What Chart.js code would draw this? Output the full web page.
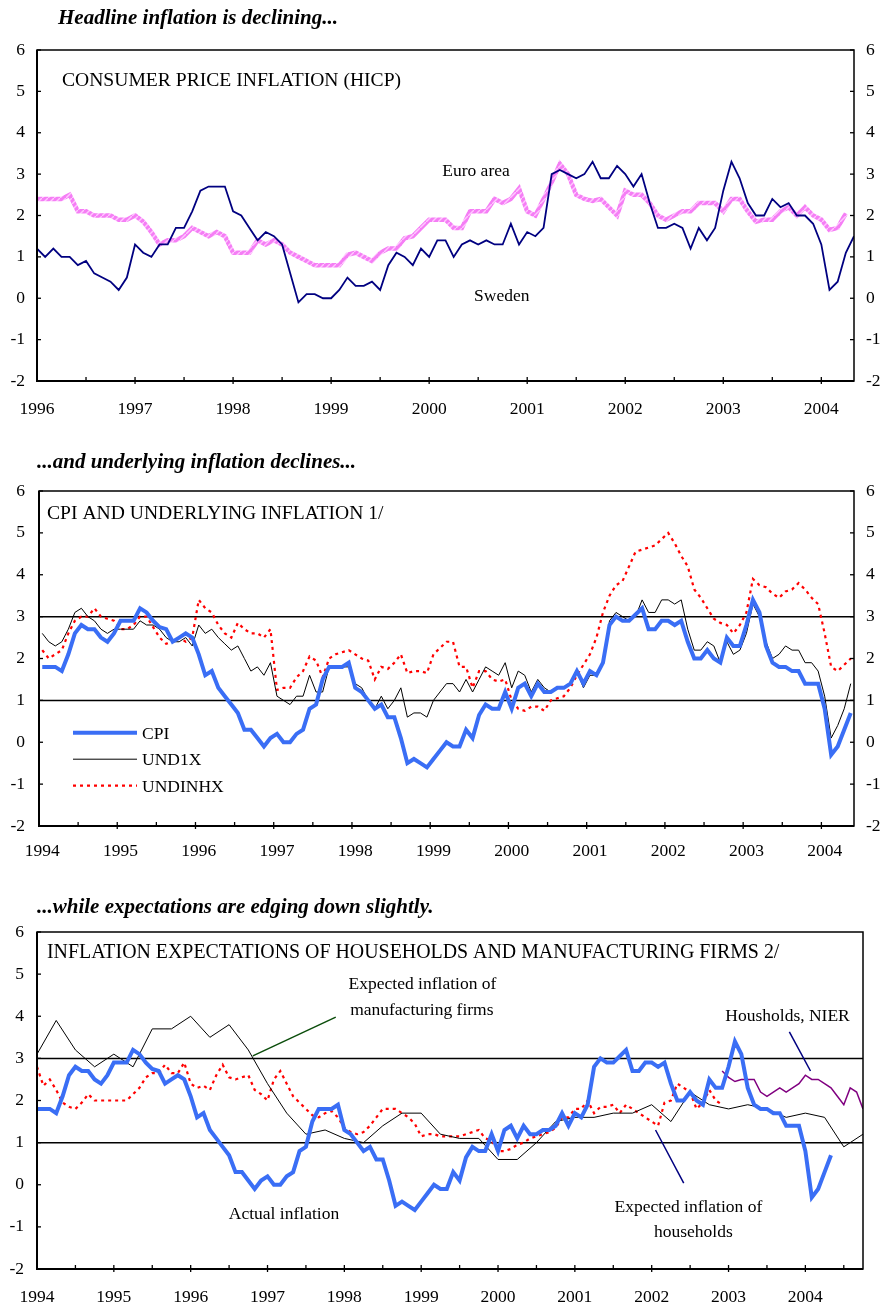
<!DOCTYPE html>
<html>
<head>
<meta charset="utf-8">
<script src="https://cdn.jsdelivr.net/npm/chart.js@4.4.1/dist/chart.umd.min.js"></script>
<style>
  body { margin: 0; background: #fff; width: 884px; height: 1306px; position: relative; overflow: hidden; }
  canvas { position: absolute; left: 0; }
</style>
</head>
<body>
<canvas id="c1" width="884" height="425" style="top:0px"></canvas>
<canvas id="c2" width="884" height="445" style="top:425px"></canvas>
<canvas id="c3" width="884" height="436" style="top:870px"></canvas>
<script>
// ---- data (monthly, 12-month % change) ----
const yearsP1 = ['1996', '1997', '1998', '1999', '2000', '2001', '2002', '2003', '2004'];
const yearsP23 = ['1994', '1995', '1996', '1997', '1998', '1999', '2000', '2001', '2002', '2003', '2004'];

// Panel 1: HICP, Jan 1996 -
const hicpSweden = [
  1.2, 1.0, 1.2, 1.0, 1.0, 0.8, 0.9, 0.6, 0.5, 0.4, 0.2, 0.5,
  1.3, 1.1, 1.0, 1.3, 1.3, 1.7, 1.7, 2.1, 2.6, 2.7, 2.7, 2.7,
  2.1, 2.0, 1.7, 1.4, 1.6, 1.5, 1.3, 0.6, -0.1, 0.1, 0.1, 0.0,
  0.0, 0.2, 0.5, 0.3, 0.3, 0.4, 0.2, 0.8, 1.1, 1.0, 0.8, 1.2,
  1.0, 1.4, 1.4, 1.0, 1.3, 1.4, 1.3, 1.4, 1.3, 1.3, 1.8, 1.3,
  1.6, 1.5, 1.7, 3.0, 3.1, 3.0, 2.9, 3.0, 3.3, 2.9, 2.9, 3.2,
  3.0, 2.7, 3.0, 2.3, 1.7, 1.7, 1.8, 1.7, 1.2, 1.7, 1.4, 1.7,
  2.6, 3.3, 2.9, 2.3, 2.0, 2.0, 2.4, 2.2, 2.3, 2.0, 2.0, 1.8,
  1.3, 0.2, 0.4, 1.1, 1.5
];
const hicpEuro = [
  2.4, 2.4, 2.4, 2.4, 2.5, 2.1, 2.1, 2.0, 2.0, 2.0, 1.9, 1.9,
  2.0, 1.85, 1.6, 1.3, 1.4, 1.4, 1.5, 1.7, 1.6, 1.5, 1.6, 1.5,
  1.1, 1.1, 1.1, 1.4, 1.3, 1.4, 1.3, 1.1, 1.0, 0.9, 0.8, 0.8,
  0.8, 0.8, 1.05, 1.1, 1.0, 0.9, 1.1, 1.2, 1.2, 1.45, 1.5, 1.7,
  1.9, 1.9, 1.9, 1.7, 1.7, 2.1, 2.1, 2.1, 2.4, 2.3, 2.4, 2.65,
  2.1, 2.0, 2.4, 2.8, 3.25, 3.0, 2.5, 2.4, 2.35, 2.4, 2.2, 2.0,
  2.6, 2.5, 2.5, 2.3, 2.0, 1.9, 2.0, 2.1, 2.1, 2.3, 2.3, 2.3,
  2.1, 2.4, 2.4, 2.1, 1.85, 1.9, 1.9, 2.1, 2.2, 2.0, 2.2, 2.0,
  1.9, 1.65, 1.7, 2.05
];

// Panel 2 and 3: Sweden, Jan 1994 -
const cpi = [
  1.8, 1.8, 1.8, 1.7, 2.1, 2.6, 2.8, 2.7, 2.7, 2.5, 2.4, 2.6,
  2.9, 2.9, 2.9, 3.2, 3.1, 2.9, 2.75, 2.7, 2.4, 2.5, 2.6, 2.5,
  2.1, 1.6, 1.7, 1.3, 1.1, 0.9, 0.7, 0.3, 0.3, 0.1, -0.1, 0.1,
  0.2, 0.0, 0.0, 0.2, 0.3, 0.8, 0.9, 1.5, 1.8, 1.8, 1.8, 1.9,
  1.3, 1.2, 1.0, 0.8, 0.9, 0.6, 0.6, 0.1, -0.5, -0.4, -0.5, -0.6,
  -0.4, -0.2, 0.0, -0.1, -0.1, 0.3, 0.1, 0.65, 0.9, 0.8, 0.8, 1.2,
  0.8, 1.3, 1.4, 1.1, 1.4, 1.2, 1.2, 1.3, 1.3, 1.4, 1.7, 1.4,
  1.7, 1.6, 1.9, 2.8, 3.0, 2.9, 2.9, 3.05, 3.2, 2.7, 2.7, 2.9,
  2.9, 2.8, 2.9, 2.4, 2.0, 2.0, 2.2, 2.0, 1.9, 2.5, 2.3, 2.3,
  2.8, 3.4, 3.1, 2.3, 1.9, 1.8, 1.8, 1.7, 1.7, 1.4, 1.4, 1.4,
  0.8, -0.3, -0.1, 0.3, 0.7
];
const und1x = [
  2.6, 2.4, 2.3, 2.4, 2.7, 3.1, 3.2, 3.0, 2.9, 2.7, 2.6, 2.7,
  2.7, 2.7, 2.7, 2.9, 2.8, 2.8, 2.7, 2.5, 2.4, 2.4, 2.5, 2.3,
  2.8, 2.6, 2.7, 2.5, 2.35, 2.2, 2.3, 2.0, 1.7, 1.8, 1.6, 1.9,
  1.1, 1.0, 0.9, 1.1, 1.1, 1.6, 1.2, 1.2, 1.8, 1.8, 1.8, 1.8,
  1.4, 1.3, 1.0, 0.8, 1.1, 0.8, 1.0, 1.3, 0.6, 0.7, 0.7, 0.6,
  1.0, 1.2, 1.4, 1.4, 1.2, 1.5, 1.2, 1.5, 1.8, 1.7, 1.6, 1.9,
  1.3, 1.7, 1.6, 1.2, 1.5, 1.3, 1.2, 1.3, 1.3, 1.4, 1.7, 1.3,
  1.6, 1.6, 1.9, 2.9, 3.1, 3.0, 2.9, 3.0, 3.4, 3.1, 3.1, 3.4,
  3.4, 3.3, 3.4, 2.7, 2.2, 2.2, 2.4, 2.3, 1.9, 2.4, 2.1, 2.2,
  2.6, 3.3, 3.0, 2.4, 2.0, 2.1, 2.3, 2.2, 2.2, 1.9, 1.9, 1.7,
  1.1, 0.1, 0.4, 0.8, 1.4
];
const undinhx = [
  2.2, 2.0, 2.1, 2.2, 2.6, 2.9, 3.0, 3.0, 3.2, 3.0, 2.95, 2.9,
  2.7, 2.7, 2.8, 3.0, 3.0, 2.75, 2.5, 2.35, 2.4, 2.5, 2.4, 2.5,
  3.4, 3.2, 3.1, 2.8, 2.6, 2.5, 2.85, 2.7, 2.6, 2.6, 2.5, 2.7,
  1.25, 1.3, 1.3, 1.55, 1.7, 2.05, 1.95, 1.55, 2.0, 2.1, 2.15, 2.2,
  2.1, 2.0, 1.95, 1.5, 1.8, 1.75, 1.9, 2.1, 1.65, 1.7, 1.7, 1.65,
  2.1, 2.25, 2.4, 2.4, 1.8, 1.8, 1.3, 1.7, 1.7, 1.5, 1.45, 1.5,
  1.0, 0.8, 0.75, 0.85, 0.85, 0.75, 1.0, 1.05, 1.1, 1.3, 1.6, 1.85,
  2.1, 2.5, 3.1, 3.5, 3.75, 3.85, 4.2, 4.55, 4.6, 4.65, 4.7, 4.85,
  5.0, 4.75, 4.45, 4.2, 3.65, 3.45, 3.2, 2.95, 2.85, 2.8, 2.6, 2.8,
  3.1, 3.9, 3.75, 3.7, 3.55, 3.45, 3.6, 3.65, 3.8, 3.65, 3.45, 3.3,
  2.6, 1.8, 1.7, 1.85, 2.0
];

// Panel 3: expectations
const firmsQuarterly = [ // Jan, Apr, Jul, Oct from 1994
  3.1, 3.9, 3.2, 2.8, 3.1, 2.8, 3.7, 3.7, 4.0, 3.5, 3.8, 3.2,
  2.4, 1.7, 1.2, 1.3, 1.1, 1.0, 1.4, 1.7, 1.7, 1.2, 1.1, 1.1,
  0.6, 0.6, 1.0, 1.5, 1.6, 1.6, 1.7, 1.7, 1.9, 1.5, 2.2, 1.9,
  1.8, 1.9, 1.8, 1.6, 1.7, 1.6, 0.9, 1.2
];
const households = [ // Jan 1994 - Dec 2002
  2.8, 2.35, 2.5, 2.25, 1.95, 1.85, 1.8, 1.95, 2.15, 2.0, 2.0, 2.0,
  2.0, 2.0, 2.0, 2.15, 2.3, 2.55, 2.65, 2.65, 2.85, 2.65, 2.65, 2.9,
  2.4, 2.3, 2.35, 2.25, 2.6, 2.85, 2.55, 2.5, 2.55, 2.6, 2.25, 2.15,
  2.0, 2.5, 2.7, 2.4, 2.1, 1.95, 1.8, 1.65, 1.6, 1.7, 1.75, 1.6,
  1.35, 1.25, 1.2, 1.25, 1.4, 1.6, 1.8, 1.8, 1.8, 1.7, 1.6, 1.45,
  1.15, 1.2, 1.2, 1.15, 1.15, 1.15, 1.15, 1.2, 1.25, 1.3, 1.1, 1.05,
  0.8, 0.8, 0.85, 0.95, 1.0, 1.1, 1.15, 1.2, 1.25, 1.35, 1.6, 1.6,
  1.8, 1.8, 2.0, 1.7, 1.85, 1.85, 1.9, 1.7, 1.9, 1.8, 1.7, 1.6,
  1.5, 1.4, 1.95, 2.0, 2.4, 2.3, 2.2, 1.8, 1.95, 2.25, 2.0, 1.9
];
const householdsNIER = [ // Dec 2002 - Oct 2004
  2.7, 2.55, 2.45, 2.5, 2.5, 2.5, 2.2, 2.1, 2.2, 2.3, 2.2, 2.3,
  2.4, 2.6, 2.5, 2.5, 2.4, 2.3, 2.1, 1.9, 2.3, 2.2, 1.8
];
const nierStart = 107; // months after Jan 1994

// ---- helpers ----
const SERIF = "'Liberation Serif', 'Times New Roman', serif";
Chart.defaults.font.family = SERIF;
Chart.defaults.font.size = 17.5;
Chart.defaults.color = '#000';

function points(values, start, step, shift) {
  return values.map((v, k) => ({ x: start + k * step + shift, y: v }));
}

function hatch() {
  const c = document.createElement('canvas');
  c.width = 6; c.height = 6;
  const g = c.getContext('2d');
  g.fillStyle = '#f57ef5';
  g.fillRect(0, 0, 6, 6);
  g.strokeStyle = '#ffc8ff';
  g.lineWidth = 1.4;
  g.beginPath(); g.moveTo(0, 6); g.lineTo(6, 0); g.stroke();
  return g.createPattern(c, 'repeat');
}

function makePanel(id, p) {
  const canvas = document.getElementById(id);
  const H = canvas.height;
  const a = p.area;

  const yBase = {
    min: -2, max: 6,
    grid: { display: false, drawTicks: false },
    border: { display: false },
    ticks: { stepSize: 1, color: '#000', font: { size: 17.5 }, callback: v => String(v) }
  };

  const scales = {
    x: {
      type: 'linear', min: 0, max: p.xMax,
      grid: { display: false, drawTicks: false },
      border: { display: false },
      afterBuildTicks: s => {
        s.ticks = [];
        for (let v = 0; v <= p.xMax; v += 6) s.ticks.push({ value: v });
      },
      afterFit: s => { s.height = p.top + H - a.b; },
      ticks: {
        autoSkip: false, maxRotation: 0, minRotation: 0,
        padding: p.xPad, labelOffset: p.labelOffset || 0,
        color: '#000', font: { size: 17.5 },
        callback: v => (v % 12 === 0 ? (p.years[v / 12] || '') : '')
      }
    },
    y: Object.assign({}, yBase, {
      position: 'left',
      afterFit: s => { s.width = a.l; },
      ticks: Object.assign({}, yBase.ticks, { padding: p.yPad })
    })
  };
  if (p.rightAxis) {
    scales.y2 = Object.assign({}, yBase, {
      position: 'right',
      afterFit: s => { s.width = 884 - a.r; },
      ticks: Object.assign({}, yBase.ticks, { padding: p.y2Pad })
    });
  }

  const decor = {
    id: 'decor_' + id,
    beforeDatasetsDraw(chart) {
      const { ctx, chartArea: ca, scales: { y } } = chart;
      ctx.save();
      ctx.strokeStyle = '#000';
      ctx.lineWidth = 1.5;
      (p.refLines || []).forEach(v => {
        const py = y.getPixelForValue(v);
        ctx.beginPath(); ctx.moveTo(ca.left, py); ctx.lineTo(ca.right, py); ctx.stroke();
      });
      ctx.restore();
    },
    afterDatasetsDraw(chart) {
      const { ctx, chartArea: ca, scales: { x, y } } = chart;
      ctx.save();
      ctx.strokeStyle = '#000';
      // frame
      ctx.lineWidth = 1.5;
      ctx.strokeRect(ca.left, ca.top, ca.right - ca.left, ca.bottom - ca.top);
      ctx.lineWidth = 2;
      ctx.beginPath();
      ctx.moveTo(ca.left, ca.top); ctx.lineTo(ca.left, ca.bottom); ctx.lineTo(ca.right, ca.bottom);
      ctx.stroke();
      // tick marks
      ctx.lineWidth = 1.3;
      for (let v = -2; v <= 6; v++) {
        const py = y.getPixelForValue(v);
        ctx.beginPath(); ctx.moveTo(ca.left, py); ctx.lineTo(ca.left + 4, py); ctx.stroke();
        if (p.rightAxis) {
          ctx.beginPath(); ctx.moveTo(ca.right, py); ctx.lineTo(ca.right - 4, py); ctx.stroke();
        }
      }
      for (let v = 6; v < p.xMax; v += 6) {
        const px = x.getPixelForValue(v);
        ctx.beginPath();
        ctx.moveTo(px, ca.bottom - 4);
        ctx.lineTo(px, ca.bottom + (v % 12 === 0 ? 3 : 0));
        ctx.stroke();
      }
      // leader lines
      (p.leaders || []).forEach(l => {
        ctx.strokeStyle = l.color;
        ctx.lineWidth = 1.5;
        ctx.beginPath();
        ctx.moveTo(x.getPixelForValue(l.x1), y.getPixelForValue(l.y1));
        ctx.lineTo(x.getPixelForValue(l.x2), y.getPixelForValue(l.y2));
        ctx.stroke();
      });
      // in-plot title
      ctx.fillStyle = '#000';
      ctx.textBaseline = 'alphabetic';
      ctx.textAlign = 'left';
      ctx.font = p.titleSize + 'px ' + SERIF;
      ctx.fillText(p.title, ca.left + p.titleDx, ca.top + p.titleDy);
      // notes
      ctx.font = '17.5px ' + SERIF;
      (p.notes || []).forEach(n => {
        ctx.textAlign = n.align || 'left';
        ctx.fillText(n.text, x.getPixelForValue(n.x), y.getPixelForValue(n.y));
      });
      // legend
      if (p.legend) {
        const lg = p.legend;
        chart.data.datasets.forEach((ds, i) => {
          const ly = ca.top + lg.dy + i * lg.gap;
          ctx.strokeStyle = ds.borderColor;
          ctx.lineWidth = ds.borderWidth;
          ctx.setLineDash(ds.borderDash || []);
          ctx.beginPath();
          ctx.moveTo(ca.left + lg.x1, ly); ctx.lineTo(ca.left + lg.x2, ly);
          ctx.stroke();
          ctx.setLineDash([]);
          ctx.textAlign = 'left';
          ctx.fillText(ds.label, ca.left + lg.tx, ly + 6);
        });
      }
      // heading above the panel
      ctx.font = 'italic bold 21px ' + SERIF;
      ctx.textAlign = 'left';
      ctx.fillText(p.heading, p.headingX, p.headingY - p.top);
      ctx.restore();
    }
  };

  return new Chart(canvas.getContext('2d'), {
    type: 'line',
    data: { datasets: p.datasets },
    options: {
      responsive: false,
      animation: false,
      devicePixelRatio: 1,
      layout: { padding: { top: a.t - p.top, right: p.rightAxis ? 0 : 884 - a.r, left: 0, bottom: 0 } },
      elements: { point: { radius: 0 }, line: { tension: 0 } },
      plugins: { legend: { display: false }, tooltip: { enabled: false } },
      scales: scales
    },
    plugins: [decor]
  });
}

const BLUE = '#3a6ef5';

// Panel 1
makePanel('c1', {
  top: 0,
  area: { l: 37, t: 50, r: 854, b: 381 },
  xMax: 100, years: yearsP1, xPad: 18, yPad: 12, y2Pad: 12, rightAxis: true,
  heading: 'Headline inflation is declining...', headingX: 58, headingY: 24,
  title: 'CONSUMER PRICE INFLATION (HICP)', titleSize: 19.6, titleDx: 25, titleDy: 36,
  notes: [
    { text: 'Euro area', x: 49.6, y: 2.96 },
    { text: 'Sweden', x: 53.5, y: -0.07 }
  ],
  datasets: [
    { label: 'Sweden', data: points(hicpSweden, 0, 1, 0), borderColor: '#000080', borderWidth: 1.8 },
    { label: 'Euro area', data: points(hicpEuro, 0, 1, 0), borderColor: hatch(), borderWidth: 4.5 }
  ]
});

// Panel 2
makePanel('c2', {
  top: 425,
  area: { l: 39, t: 491, r: 854, b: 826 },
  xMax: 125, years: yearsP23, xPad: 15, labelOffset: 3.25, yPad: 14, y2Pad: 12, rightAxis: true,
  refLines: [1, 3],
  heading: '...and underlying inflation declines...', headingX: 37, headingY: 468,
  title: 'CPI AND UNDERLYING INFLATION 1/', titleSize: 19.6, titleDx: 8, titleDy: 28,
  legend: { x1: 34, x2: 98, tx: 103, dy: 241.7, gap: 26.5 },
  datasets: [
    { label: 'CPI', data: points(cpi, 0, 1, 0.5), borderColor: BLUE, borderWidth: 4 },
    { label: 'UND1X', data: points(und1x, 0, 1, 0.5), borderColor: '#000', borderWidth: 1 },
    { label: 'UNDINHX', data: points(undinhx, 0, 1, 0.5), borderColor: '#ff0000', borderWidth: 2.2, borderDash: [3, 4] }
  ]
});

// Panel 3
makePanel('c3', {
  top: 870,
  area: { l: 37, t: 932, r: 863, b: 1269 },
  xMax: 129, years: yearsP23, xPad: 18, yPad: 13, rightAxis: false,
  refLines: [1, 3],
  heading: '...while expectations are edging down slightly.', headingX: 37, headingY: 913,
  title: 'INFLATION EXPECTATIONS OF HOUSEHOLDS AND MANUFACTURING FIRMS 2/', titleSize: 19.9, titleDx: 10, titleDy: 26,
  notes: [
    { text: 'Expected inflation of', x: 60.2, y: 4.65, align: 'center' },
    { text: 'manufacturing firms', x: 60.1, y: 4.04, align: 'center' },
    { text: 'Housholds, NIER', x: 107.5, y: 3.89 },
    { text: 'Actual inflation', x: 29.96, y: -0.81 },
    { text: 'Expected inflation of', x: 90.2, y: -0.65 },
    { text: 'households', x: 102.5, y: -1.24, align: 'center' }
  ],
  leaders: [
    { x1: 46.66, y1: 3.98, x2: 33.71, y2: 3.06, color: '#0b4d0b' },
    { x1: 117.5, y1: 3.63, x2: 120.8, y2: 2.70, color: '#000080' },
    { x1: 96.6, y1: 1.30, x2: 101.0, y2: 0.04, color: '#000080' }
  ],
  datasets: [
    { label: 'Actual inflation', data: points(cpi, 0, 1, 0), borderColor: BLUE, borderWidth: 4 },
    { label: 'Expected inflation of manufacturing firms', data: points(firmsQuarterly, 0, 3, 0), borderColor: '#000', borderWidth: 1 },
    { label: 'Expected inflation of households', data: points(households, 0, 1, 0), borderColor: '#ff0000', borderWidth: 2.2, borderDash: [3, 4] },
    { label: 'Housholds, NIER', data: points(householdsNIER, nierStart, 1, 0), borderColor: '#800080', borderWidth: 1.5 }
  ]
});
</script>
</body>
</html>
